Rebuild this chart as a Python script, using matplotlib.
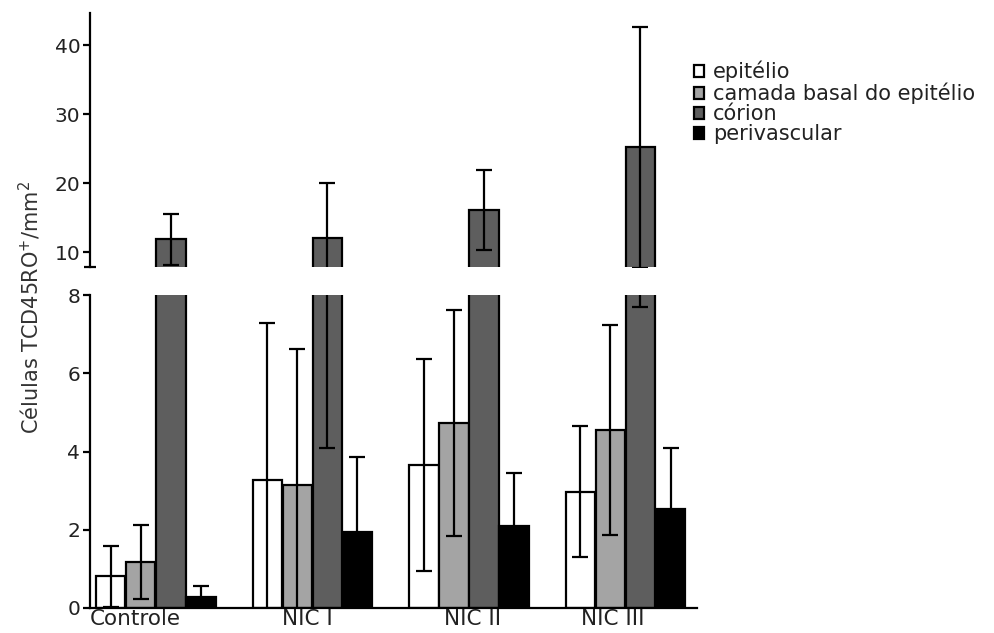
import matplotlib
matplotlib.use("Agg")
import matplotlib.pyplot as plt
import numpy as np

groups = ["Controle", "NIC I", "NIC II", "NIC III"]
series = ["epitélio", "camada basal do epitélio", "córion", "perivascular"]
epitelio = [0.81, 3.27, 3.66, 2.97]
epitelio_err = [0.78, 4.01, 2.72, 1.68]
basal = [1.18, 3.14, 4.73, 4.54]
basal_err = [0.95, 3.48, 2.90, 2.69]
corion = [11.85, 12.1, 16.1, 25.2]
corion_err = [3.65, 8.0, 5.8, 17.5]
perivascular = [0.28, 1.93, 2.08, 2.53]
perivascular_err = [0.28, 1.94, 1.36, 1.57]
top_ticks = [10, 20, 30, 40]
bottom_ticks = [0, 2, 4, 6, 8]

values = [epitelio, basal, corion, perivascular]
errors = [epitelio_err, basal_err, corion_err, perivascular_err]
colors = ["white", "#a4a4a4", "#5e5e5e", "black"]

plt.rcParams["font.family"] = ["DejaVu Sans"]
txt = "#222222"

W, H = 995, 633
fig = plt.figure(figsize=(W / 100, H / 100), dpi=100)

def fx(px):
    return px / W

def fy(py):
    return 1 - py / H

ax_left = fx(90)
ax_w = fx(697) - fx(90)
ax_bot = fig.add_axes([ax_left, fy(607.7), ax_w, fy(295.3) - fy(607.7)])
ax_top = fig.add_axes([ax_left, fy(266.7), ax_w, fy(13) - fy(266.7)])

x = np.arange(len(groups))
width = 0.188
offsets = (np.arange(4) - 1.5) * 0.192

top_lim = (7.9, 44.7)

for ax in (ax_bot, ax_top):
    for k in range(4):
        ax.bar(x + offsets[k], values[k], width, color=colors[k], edgecolor="black",
               linewidth=1.6, label=series[k], zorder=2)
        if ax is ax_top and max(np.array(values[k]) + np.array(errors[k])) < top_lim[0]:
            continue
        ax.errorbar(x + offsets[k], values[k], yerr=errors[k], fmt="none",
                    ecolor="black", elinewidth=1.6, capsize=5.5, capthick=1.6, zorder=3)
    ax.set_xlim(-0.42, 3.457)
    for s in ("top", "right"):
        ax.spines[s].set_visible(False)
    ax.spines["left"].set_linewidth(1.6)
    ax.tick_params(axis="y", length=5, width=1.6, pad=2, labelsize=14.5, labelcolor=txt)

ax_bot.set_ylim(0, 8)
ax_bot.set_yticks(bottom_ticks)
ax_bot.set_yticks([8], minor=True)
ax_bot.tick_params(axis="y", which="minor", direction="inout", length=8, width=1.6)
ax_bot.spines["bottom"].set_linewidth(1.6)
label_shift = [-0.128, -0.03, 0.025, -0.083]
ax_bot.set_xticks(x + np.array(label_shift))
ax_bot.set_xticklabels(groups, fontsize=15.5, color=txt)
ax_bot.tick_params(axis="x", length=0, pad=1)

ax_top.set_ylim(*top_lim)
ax_top.set_yticks(top_ticks)
ax_top.set_yticks([top_lim[0]], minor=True)
ax_top.tick_params(axis="y", which="minor", direction="inout", length=8, width=1.6)
ax_top.spines["bottom"].set_visible(False)
ax_top.set_xticks([])

fig.text(fx(30), fy(307), "Células TCD45RO$^{+}$/mm$^{2}$", rotation=90,
         ha="center", va="center", fontsize=15, color="#333333")

handles, labels = ax_bot.get_legend_handles_labels()
fig.legend(handles, labels, loc="upper left", bbox_to_anchor=(fx(694), fy(61)),
           frameon=False, fontsize=15, handlelength=0.5, handleheight=0.5,
           handletextpad=0.4, labelspacing=0.0, borderpad=0, borderaxespad=0,
           labelcolor=txt)

fig.savefig("out.png", dpi=100)
